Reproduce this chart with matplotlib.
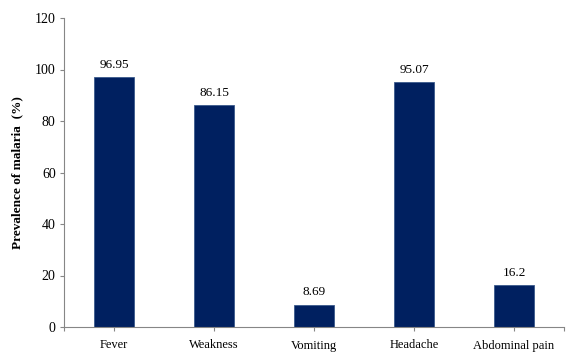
import numpy as np
import matplotlib.pyplot as plt

symptoms = ["Fever", "Weakness", "Vomiting", "Headache", "Abdominal pain"]
prevalence = [96.95, 86.15, 8.69, 95.07, 16.2]
value_labels = ["96.95", "86.15", "8.69", "95.07", "16.2"]

plt.rcParams['font.family'] = ['Liberation Serif', 'DejaVu Serif']

fig = plt.figure(figsize=(5.71, 3.6), dpi=100)
ax = fig.add_axes([64 / 571, 1 - 327 / 360, 500 / 571, 309 / 360])

x = np.arange(len(symptoms))
bars = ax.bar(x, prevalence, width=0.4, color='#002060', edgecolor='#3a5a8c', linewidth=0.6)

for xi, v, lab in zip(x, prevalence, value_labels):
    ax.text(xi, v + 2.5, lab, ha='center', va='bottom', fontsize=9.5, color='black')

ax.set_xlim(-0.5, len(symptoms) - 0.5)
ax.set_ylim(0, 120)
ax.set_yticks(np.arange(0, 121, 20))
ax.set_xticks(list(x) + [-0.5, len(symptoms) - 0.5])
ax.set_xticklabels(symptoms + ["", ""])
ax.tick_params(axis='x', length=3, color='#868686', labelsize=9, pad=6)
ax.tick_params(axis='y', length=3, color='#868686', labelsize=10, pad=3)

for side in ['top', 'right']:
    ax.spines[side].set_visible(False)
for side in ['left', 'bottom']:
    ax.spines[side].set_color('#868686')
    ax.spines[side].set_linewidth(0.8)

ax.set_ylabel('Prevalence of malaria  (%)', fontsize=9.5, fontweight='bold', labelpad=8)

fig.savefig('out.png', dpi=100, facecolor='white')
